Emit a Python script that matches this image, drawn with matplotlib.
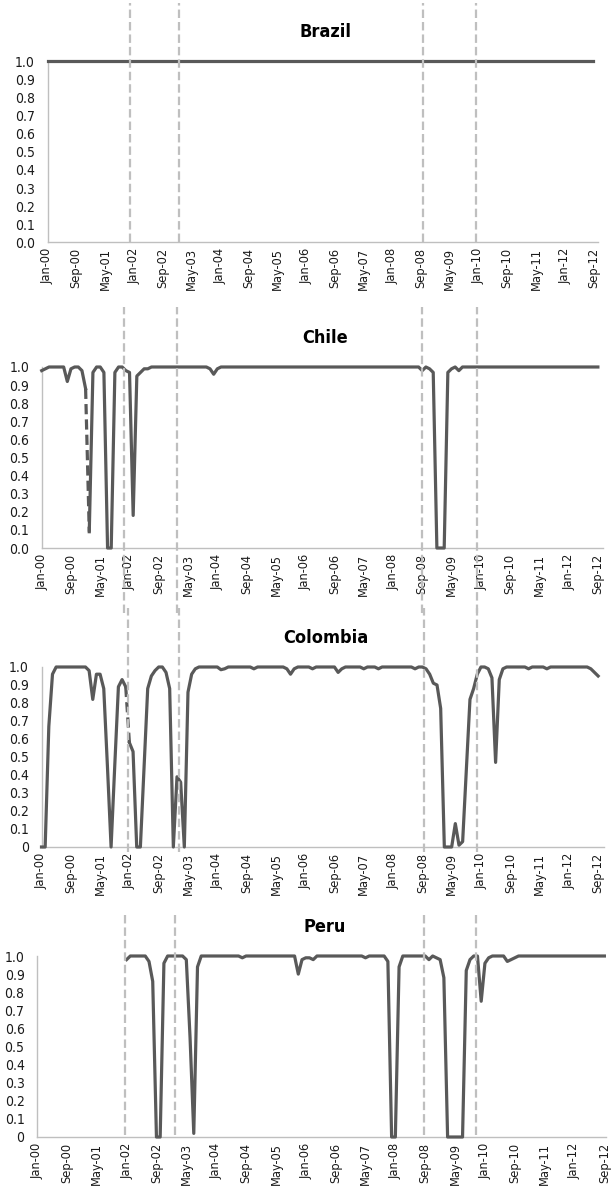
import matplotlib
matplotlib.use("Agg")
import matplotlib.pyplot as plt
import numpy as np
import pandas as pd
from matplotlib import font_manager

# monthly observations Jan-2000 .. Sep-2012
months = pd.date_range("2000-01-01", "2012-09-01", freq="MS")
nan = np.nan

brazil = [1.0] * 153

chile = (
    [0.98, 0.99, 1.0, 1.0, 1.0, 1.0, 1.0, 0.92, 0.99, 1.0, 1.0, 0.98]      # 2000
    + [0.88, 0.09, 0.97, 1.0, 1.0, 0.97, 0.0, 0.0, 0.97, 1.0, 1.0, 0.98]   # 2001
    + [0.97, 0.18, 0.95, 0.97, 0.99, 0.99, 1.0, 1.0, 1.0, 1.0, 1.0, 1.0]   # 2002
    + [1.0, 1.0, 1.0, 1.0, 1.0, 1.0, 1.0, 1.0, 1.0, 1.0, 0.99, 0.96]       # 2003
    + [0.99, 1.0, 1.0, 1.0, 1.0, 1.0, 1.0, 1.0, 1.0, 1.0, 1.0, 1.0]        # 2004
    + [1.0, 1.0, 1.0, 1.0, 1.0, 1.0, 1.0, 1.0, 1.0, 1.0, 1.0, 1.0]         # 2005
    + [1.0, 1.0, 1.0, 1.0, 1.0, 1.0, 1.0, 1.0, 1.0, 1.0, 1.0, 1.0]         # 2006
    + [1.0, 1.0, 1.0, 1.0, 1.0, 1.0, 1.0, 1.0, 1.0, 1.0, 1.0, 1.0]         # 2007
    + [1.0, 1.0, 1.0, 1.0, 1.0, 1.0, 1.0, 1.0, 0.98, 1.0, 0.99, 0.97]      # 2008
    + [0.0, 0.0, 0.0, 0.97, 0.99, 1.0, 0.98, 1.0, 1.0, 1.0, 1.0, 1.0]      # 2009
    + [1.0, 1.0, 1.0, 1.0, 1.0, 1.0, 1.0, 1.0, 1.0, 1.0, 1.0, 1.0]         # 2010
    + [1.0, 1.0, 1.0, 1.0, 1.0, 1.0, 1.0, 1.0, 1.0, 1.0, 1.0, 1.0]         # 2011
    + [1.0, 1.0, 1.0, 1.0, 1.0, 1.0, 1.0, 1.0, 1.0]                        # 2012
)

colombia = (
    [0.0, 0.0, 0.67, 0.96, 1.0, 1.0, 1.0, 1.0, 1.0, 1.0, 1.0, 1.0]         # 2000
    + [1.0, 0.98, 0.82, 0.96, 0.96, 0.88, 0.45, 0.0, 0.45, 0.89, 0.93, 0.89]  # 2001
    + [0.58, 0.53, 0.0, 0.0, 0.44, 0.88, 0.95, 0.98, 1.0, 1.0, 0.97, 0.88]    # 2002
    + [0.0, 0.39, 0.36, 0.0, 0.86, 0.96, 0.99, 1.0, 1.0, 1.0, 1.0, 1.0]       # 2003
    + [1.0, 0.985, 0.99, 1.0, 1.0, 1.0, 1.0, 1.0, 1.0, 1.0, 0.99, 1.0]        # 2004
    + [1.0, 1.0, 1.0, 1.0, 1.0, 1.0, 1.0, 0.99, 0.96, 0.99, 1.0, 1.0]         # 2005
    + [1.0, 1.0, 0.99, 1.0, 1.0, 1.0, 1.0, 1.0, 1.0, 0.97, 0.99, 1.0]         # 2006
    + [1.0, 1.0, 1.0, 1.0, 0.99, 1.0, 1.0, 1.0, 0.99, 1.0, 1.0, 1.0]         # 2007
    + [1.0, 1.0, 1.0, 1.0, 1.0, 1.0, 0.99, 1.0, 1.0, 0.99, 0.96, 0.91]        # 2008
    + [0.90, 0.77, 0.0, 0.0, 0.0, 0.13, 0.01, 0.03, 0.43, 0.82, 0.88, 0.96]   # 2009
    + [1.0, 1.0, 0.99, 0.94, 0.47, 0.93, 0.99, 1.0, 1.0, 1.0, 1.0, 1.0]       # 2010
    + [1.0, 0.99, 1.0, 1.0, 1.0, 1.0, 0.99, 1.0, 1.0, 1.0, 1.0, 1.0]         # 2011
    + [1.0, 1.0, 1.0, 1.0, 1.0, 1.0, 0.99, 0.97, 0.95]                        # 2012
)

peru = (
    [nan] * 12                                                              # 2000
    + [nan] * 12                                                            # 2001
    + [0.98, 1.0, 1.0, 1.0, 1.0, 1.0, 0.97, 0.86, 0.0, 0.0, 0.96, 1.0]      # 2002
    + [1.0, 1.0, 1.0, 1.0, 0.98, 0.55, 0.02, 0.94, 1.0, 1.0, 1.0, 1.0]      # 2003
    + [1.0, 1.0, 1.0, 1.0, 1.0, 1.0, 1.0, 0.99, 1.0, 1.0, 1.0, 1.0]         # 2004
    + [1.0, 1.0, 1.0, 1.0, 1.0, 1.0, 1.0, 1.0, 1.0, 1.0, 0.90, 0.98]        # 2005
    + [0.99, 0.99, 0.98, 1.0, 1.0, 1.0, 1.0, 1.0, 1.0, 1.0, 1.0, 1.0]       # 2006
    + [1.0, 1.0, 1.0, 1.0, 0.99, 1.0, 1.0, 1.0, 1.0, 1.0, 0.97, 0.0]        # 2007
    + [0.0, 0.94, 1.0, 1.0, 1.0, 1.0, 1.0, 1.0, 1.0, 0.98, 1.0, 0.99]       # 2008
    + [0.98, 0.88, 0.0, 0.0, 0.0, 0.0, 0.0, 0.92, 0.98, 1.0, 1.0, 0.75]     # 2009
    + [0.96, 0.99, 1.0, 1.0, 1.0, 1.0, 0.97, 0.98, 0.99, 1.0, 1.0, 1.0]     # 2010
    + [1.0, 1.0, 1.0, 1.0, 1.0, 1.0, 1.0, 1.0, 1.0, 1.0, 1.0, 1.0]          # 2011
    + [1.0, 1.0, 1.0, 1.0, 1.0, 1.0, 1.0, 1.0, 1.0]                         # 2012
)

# segments (start month index) drawn dashed
chile_dashed = [12]
colombia_dashed = [23]

# vertical event markers (month index) as placed in each panel
brazil_events = [23.0, 36.5, 104.6, 119.4]
chile_events = [22.6, 36.9, 103.9, 118.9]
colombia_events = [23.7, 37.5, 104.4, 119.0]
peru_events = [23.7, 37.0, 103.7, 117.7]

# font: look for a condensed face, otherwise an Arial-like one
narrow = [f for f in font_manager.fontManager.ttflist
          if "Narrow" in f.name or "Condensed" in f.name
          or f.stretch in ("condensed", "semi-condensed", "extra-condensed", 75, 87)]
if narrow:
    plt.rcParams["font.family"] = [narrow[0].name, "DejaVu Sans"]
    plt.rcParams["font.stretch"] = narrow[0].stretch
    TS = 10.0
else:
    plt.rcParams["font.family"] = ["Liberation Sans", "DejaVu Sans"]
    TS = 9.0

LINE = "#595959"
GRID = "#BFBFBF"
TXT = "#1a1a1a"
W, H = 611, 1191

fig = plt.figure(figsize=(W / 100, H / 100), dpi=100)


def make_axes(left, right, top, bottom):
    return fig.add_axes([left / W, 1 - bottom / H, (right - left) / W, (bottom - top) / H])


def draw_series(ax, y, dashed):
    y = np.array(y, dtype=float)
    x = np.arange(len(y))
    starts = [0] + [d + 1 for d in dashed]
    ends = [d for d in dashed] + [len(y) - 1]
    for s, e in zip(starts, ends):
        ax.plot(x[s:e + 1], y[s:e + 1], color=LINE, lw=2.3, solid_joinstyle="round",
                clip_on=False, zorder=3)
    for d in dashed:
        ax.plot(x[d:d + 2], y[d:d + 2], color=LINE, lw=2.3, dashes=(3.2, 1.6),
                clip_on=False, zorder=3)


panels = [
    # title, data, dashed, events, (left, right, top, bottom) px, xmax, zero label, event span
    ("Brazil", brazil, [], brazil_events, (47.5, 598, 61.3, 242.3), 153.3, "0.0", (1.32, 0.0)),
    ("Chile", chile, chile_dashed, chile_events, (41.7, 603, 367, 548), 153.4, "0.0", (1.33, -0.36)),
    ("Colombia", colombia, colombia_dashed, colombia_events, (41.5, 604, 667, 847), 153.6, "0", (1.33, -0.03)),
    ("Peru", peru, [], peru_events, (37, 605.5, 956, 1137), 152.3, "0", (1.24, 0.01)),
]

tick_pos = np.arange(0, len(months), 8)
tick_lab = [months[i].strftime("%b-%y") for i in tick_pos]
yt = np.round(np.arange(0, 1.01, 0.1), 1)

for title, data, dashed, events, box, xmax, zero_lab, span in panels:
    ax = make_axes(*box)
    draw_series(ax, data, dashed)
    ax.vlines(events, span[1], span[0], colors=GRID, lw=1.6, linestyles=(0, (3.8, 1.8)),
              clip_on=False, zorder=4)
    ax.set_xlim(0, xmax)
    ax.set_ylim(0, 1.0)
    ax.set_xticks(tick_pos)
    ax.set_xticklabels(tick_lab, rotation=90, fontsize=TS - 0.8, color=TXT)
    ax.set_yticks(yt)
    ax.set_yticklabels([zero_lab] + [f"{v:.1f}" for v in yt[1:]], fontsize=TS, color=TXT)
    ax.tick_params(length=0, pad=9)
    ax.tick_params(axis="x", pad=4)
    for side in ["top", "right"]:
        ax.spines[side].set_visible(False)
    for side in ["left", "bottom"]:
        ax.spines[side].set_color(GRID)
        ax.spines[side].set_linewidth(1.0)
    ax.patch.set_alpha(0)
    cx = (box[0] + box[1]) / 2 + 3
    fig.text(cx / W, 1 - (box[2] - 29) / H, title, ha="center", va="center",
             fontsize=TS + 3, fontweight="bold", color="#000000")

fig.savefig("out.png", dpi=100)
